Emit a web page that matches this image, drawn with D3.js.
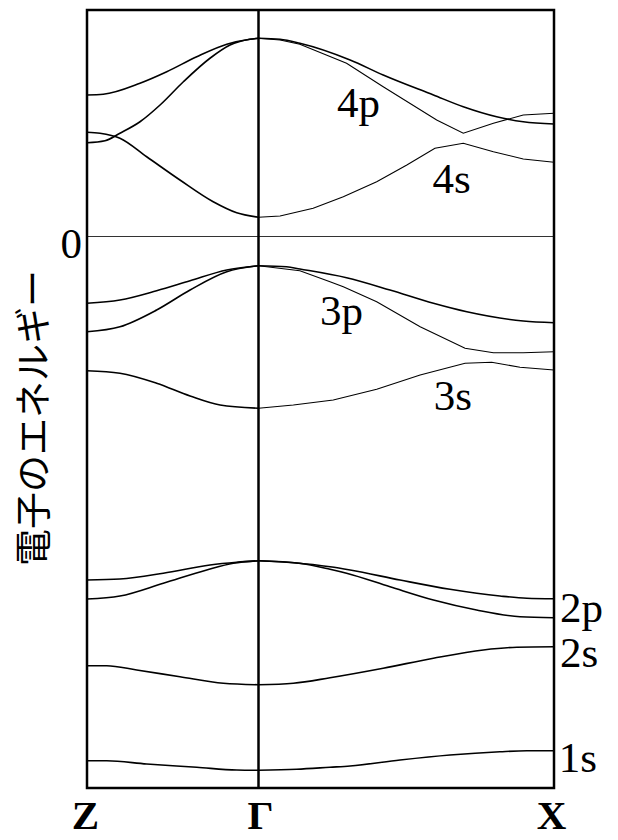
<!DOCTYPE html>
<html>
<head>
<meta charset="utf-8">
<script src="https://cdn.jsdelivr.net/npm/d3@7"></script>
<style>
  html, body { margin: 0; padding: 0; background: #fff; }
  svg { display: block; }
</style>
</head>
<body>
<div id="chart"></div>
<script>
// High-symmetry points along the k-path (Z -> Γ -> X)
const kPoints = [0, 1, 2];
const kLabels = ["Z", "Γ", "X"];

// Energy axis tick (reference level)
const energyTicks = [0];
const energyTickLabels = ["0"];

// Band dispersions: [k, E] pairs, k = 0 (Z), 1 (Γ), 2 (X)
const band4pUpper = [
  [0, 5.66], [0.095, 5.69], [0.309, 6.13], [0.465, 6.59], [0.64, 7.19], [0.815, 7.69], [0.95, 7.89], [1, 7.93],
  [1.073, 7.89], [1.14, 7.73], [1.31, 7.06], [1.422, 6.46], [1.592, 5.66], [1.693, 5.19], [1.806, 4.79], [1.896, 4.59], [2, 4.5]
];
const band4pLower = [
  [0, 3.75], [0.105, 3.83], [0.192, 4.13], [0.309, 4.59], [0.426, 5.26], [0.562, 6.19], [0.717, 7.13], [0.834, 7.66], [0.95, 7.89], [1, 7.93],
  [1.073, 7.86], [1.14, 7.69], [1.298, 6.93], [1.422, 5.99], [1.603, 4.66], [1.693, 4.13], [1.795, 4.53], [1.896, 4.86], [2, 4.93]
];
const band4s = [
  [0, 4.17], [0.076, 4.13], [0.192, 3.93], [0.348, 3.19], [0.542, 2.26], [0.736, 1.39], [0.873, 0.95], [1, 0.77],
  [1.073, 0.82], [1.185, 1.13], [1.287, 1.59], [1.4, 2.19], [1.502, 2.86], [1.597, 3.53], [1.693, 3.73], [1.795, 3.39], [1.896, 3.1], [2, 2.97]
];
const band3pUpper = [
  [0, -2.67], [0.192, -2.54], [0.406, -2.17], [0.601, -1.77], [0.815, -1.34], [1, -1.17],
  [1.095, -1.21], [1.14, -1.3], [1.298, -1.65], [1.445, -2.14], [1.592, -2.67], [1.705, -3.01], [1.896, -3.38], [2, -3.45]
];
const band3pLower = [
  [0, -3.81], [0.192, -3.61], [0.406, -2.94], [0.601, -2.14], [0.815, -1.41], [1, -1.17],
  [1.14, -1.37], [1.242, -1.81], [1.287, -2.01], [1.4, -2.61], [1.547, -3.61], [1.699, -4.47], [1.795, -4.65], [1.896, -4.65], [2, -4.61]
];
const band3s = [
  [0, -5.37], [0.192, -5.47], [0.406, -5.87], [0.601, -6.38], [0.776, -6.74], [1, -6.87],
  [1.118, -6.74], [1.253, -6.54], [1.4, -6.11], [1.547, -5.54], [1.699, -5.07], [1.789, -5.03], [1.885, -5.23], [2, -5.34]
];
const band2pUpper = [
  [0, -13.74], [0.192, -13.7], [0.445, -13.47], [0.717, -13.14], [0.873, -13.03], [1, -12.97],
  [1.118, -13.05], [1.242, -13.21], [1.31, -13.34], [1.479, -13.74], [1.648, -14.11], [1.817, -14.38], [1.908, -14.47], [2, -14.49]
];
const band2pLower = [
  [0, -14.5], [0.192, -14.38], [0.445, -13.87], [0.698, -13.34], [0.853, -13.07], [1, -12.97],
  [1.14, -13.07], [1.242, -13.31], [1.298, -13.47], [1.445, -14.01], [1.592, -14.54], [1.738, -14.94], [1.885, -15.21], [2, -15.25]
];
const band2s = [
  [0, -17.17], [0.115, -17.17], [0.29, -17.34], [0.542, -17.61], [0.795, -17.87], [1, -17.93],
  [1.118, -17.87], [1.242, -17.65], [1.422, -17.27], [1.592, -16.87], [1.761, -16.54], [1.874, -16.43], [2, -16.41]
];
const band1s = [
  [0, -20.97], [0.115, -20.97], [0.348, -21.1], [0.64, -21.23], [0.873, -21.34], [1, -21.35],
  [1.129, -21.31], [1.242, -21.23], [1.31, -21.18], [1.479, -20.94], [1.648, -20.74], [1.817, -20.61], [1.908, -20.57], [2, -20.57]
];

// Orbital labels and where they sit in (k, E)
const orbitalLabels = ["4p", "4s", "3p", "3s", "2p", "2s", "1s"];
const orbitalLabelK = [1.266, 1.589, 1.208, 1.593, 2.02, 2.02, 2.016];
const orbitalLabelE = [4.78, 1.75, -3.54, -6.94, -15.41, -17.21, -21.41];

const yTitle = "電子のエネルギー";

const bands = [
  { pts: band4pUpper, thinRight: false },
  { pts: band4pLower, thinRight: true },
  { pts: band4s, thinRight: true },
  { pts: band3pUpper, thinRight: false },
  { pts: band3pLower, thinRight: true },
  { pts: band3s, thinRight: true },
  { pts: band2pUpper, thinRight: false },
  { pts: band2pLower, thinRight: false },
  { pts: band2s, thinRight: false },
  { pts: band1s, thinRight: false }
];

const W = 618, H = 840;
const plot = { left: 87, right: 554, top: 10, bottom: 788 };
const serif = "'Liberation Serif', 'Times New Roman', serif";

const svg = d3.select("#chart").append("svg")
  .attr("width", W).attr("height", H);

// Piecewise k scale: Z-Γ and Γ-X have different lengths
const x = d3.scaleLinear().domain(kPoints).range([plot.left, 258.5, plot.right]);
const y = d3.scaleLinear().domain([-22.06, 9.06]).range([plot.bottom, plot.top]);

// Zero-energy reference line
svg.append("line")
  .attr("x1", x(0)).attr("x2", x(2))
  .attr("y1", y(0)).attr("y2", y(0))
  .attr("stroke", "#333").attr("stroke-width", 1);

const lineSmooth = d3.line().x(d => x(d[0])).y(d => y(d[1])).curve(d3.curveMonotoneX);
const lineStraight = d3.line().x(d => x(d[0])).y(d => y(d[1]));

const g = svg.append("g").attr("fill", "none").attr("stroke", "#000");
bands.forEach(b => {
  const left = b.pts.filter(p => p[0] <= 1);
  const right = b.pts.filter(p => p[0] >= 1);
  g.append("path").attr("d", lineSmooth(left)).attr("stroke-width", 1.6);
  g.append("path")
    .attr("d", b.thinRight ? lineStraight(right) : lineSmooth(right))
    .attr("stroke-width", b.thinRight ? 1.1 : 1.6);
});

// Γ vertical line
svg.append("line")
  .attr("x1", x(1)).attr("x2", x(1))
  .attr("y1", plot.top).attr("y2", plot.bottom)
  .attr("stroke", "#000").attr("stroke-width", 2.5);

// Frame
svg.append("rect")
  .attr("x", plot.left).attr("y", plot.top)
  .attr("width", plot.right - plot.left).attr("height", plot.bottom - plot.top)
  .attr("fill", "none").attr("stroke", "#000").attr("stroke-width", 2.5);

// k-point axis
const xAxis = d3.axisBottom(x).tickValues(kPoints)
  .tickFormat((d, i) => kLabels[i]).tickSize(0).tickPadding(0);
const xa = svg.append("g").attr("transform", `translate(0,${plot.bottom})`).call(xAxis);
xa.attr("font-family", serif);
xa.select(".domain").remove();
xa.selectAll("text")
  .attr("dy", null).attr("y", 41)
  .style("font-family", serif)
  .attr("font-weight", "bold").attr("font-size", 41).attr("fill", "#000");
xa.selectAll(".tick").each(function (d, i) {
  if (i === 0) d3.select(this).select("text").attr("dx", -2);
  if (i === 1) d3.select(this).select("text").attr("dx", 1.5);
  if (i === 2) d3.select(this).select("text").attr("dx", -3);
});

// Energy axis (zero only)
const yAxis = d3.axisLeft(y).tickValues(energyTicks)
  .tickFormat((d, i) => energyTickLabels[i]).tickSize(0).tickPadding(5);
const ya = svg.append("g").attr("transform", `translate(${plot.left},0)`).call(yAxis);
ya.attr("font-family", serif);
ya.select(".domain").remove();
ya.selectAll("text")
  .attr("dy", "0.49em")
  .style("font-family", serif)
  .attr("font-size", 43).attr("fill", "#000");

// Orbital labels
svg.append("g").selectAll("text").data(orbitalLabels).join("text")
  .attr("x", (d, i) => x(orbitalLabelK[i]))
  .attr("y", (d, i) => y(orbitalLabelE[i]))
  .style("font-family", serif)
  .attr("font-size", 43).attr("fill", "#000")
  .text(d => d);

// Energy axis title
svg.append("text")
  .attr("transform", "translate(31,418) rotate(-90)")
  .attr("text-anchor", "middle")
  .attr("dominant-baseline", "central")
  .style("font-family", "'Noto Sans CJK JP', 'Noto Sans', sans-serif")
  .attr("font-size", 37).attr("fill", "#000")
  .text(yTitle);
</script>
</body>
</html>
